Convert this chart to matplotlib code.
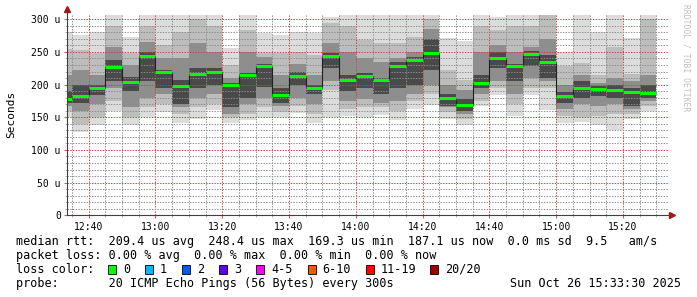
import matplotlib
matplotlib.use('Agg')
from matplotlib import pyplot as plt
from matplotlib.patches import Rectangle
import numpy as np

plt.rcParams['font.family'] = 'DejaVu Sans Mono'

W, H = 697, 297

# 5 minute smokeping steps, first one is partial (window starts 12:33:30)
window = ("12:33:30", "15:33:30")
ends = ["12:35", "12:40", "12:45", "12:50", "12:55", "13:00", "13:05", "13:10", "13:15",
        "13:20", "13:25", "13:30", "13:35", "13:40", "13:45", "13:50", "13:55", "14:00",
        "14:05", "14:10", "14:15", "14:20", "14:25", "14:30", "14:35", "14:40", "14:45",
        "14:50", "14:55", "15:00", "15:05", "15:10", "15:15", "15:20", "15:25", "15:30"]

# median rtt per step (us)
median = [178, 183, 195, 227.5, 204, 244, 220, 198, 216, 219, 199, 215, 228.5, 184, 213, 195,
          244, 207, 213, 206.6, 228.5, 237.8, 248.4, 179, 169.3, 203, 240.8, 228.5, 247, 235,
          182.6, 195, 194, 192, 189, 187.1]
# smoke bands (us): outer envelope down to the dark core
ping_min = [150, 127, 138, 159, 138, 150, 158, 141, 148, 161, 141, 146, 151, 150, 157, 141, 151, 152,
            150, 154, 146, 162, 169, 148, 138, 167, 184, 152, 184, 161, 142, 143, 138, 131, 148, 159]
ping_max = [281, 276, 280, 307, 273, 307, 307, 307, 307, 307, 256, 307, 279, 276, 280, 279, 304, 307,
            307, 307, 307, 307, 307, 271, 266, 307, 303, 307, 307, 307, 250, 307, 281, 307, 271, 307]
band2_lo = [160, 140, 150, 175, 150, 165, 170, 155, 165, 170, 150, 155, 165, 158, 167, 155, 192, 162,
            165, 165, 160, 175, 185, 158, 148, 175, 195, 170, 195, 195, 152, 151, 152, 155, 155, 168]
band2_hi = [255, 253, 248, 290, 248, 290, 261, 280, 300, 290, 230, 284, 248, 248, 250, 245, 295, 290,
            268, 263, 263, 273, 300, 222, 207, 290, 284, 290, 290, 307, 228, 233, 215, 258, 217, 300]
band3_lo = [168, 160, 170, 195, 165, 180, 185, 165, 180, 185, 155, 170, 180, 168, 180, 170, 205, 175,
            178, 172, 175, 185, 200, 165, 155, 185, 205, 185, 210, 205, 163, 170, 168, 170, 162, 175]
band3_hi = [215, 222, 215, 258, 230, 265, 240, 240, 263, 250, 210, 250, 243, 215, 232, 215, 263, 250,
            240, 235, 240, 250, 285, 200, 192, 250, 260, 250, 258, 270, 200, 215, 203, 210, 205, 215]
core_lo = [172, 172, 184, 205, 190, 205, 195, 170, 195, 200, 165, 180, 197, 172, 200, 185, 225, 190,
           195, 185, 195, 200, 222, 168, 160, 195, 225, 205, 228, 210, 172, 180, 182, 180, 168, 180]
core_hi = [190, 200, 200, 238, 212, 250, 222, 207, 225, 225, 202, 218, 232, 195, 220, 200, 248, 215,
           218, 210, 235, 242, 270, 185, 178, 215, 250, 232, 252, 245, 188, 205, 198, 200, 195, 200]

x_labels = ["12:40", "13:00", "13:20", "13:40", "14:00", "14:20", "14:40", "15:00", "15:20"]
y_ticks = [0, 50, 100, 150, 200, 250, 300]

loss_names = ["0", "1", "2", "3", "4-5", "6-10", "11-19", "20/20"]
loss_colors = ["#00ff00", "#00b8ff", "#0059ff", "#5e00ff", "#ff00ff", "#ff5500", "#ff0000", "#a10000"]


def minutes(s):
    p = [int(v) for v in s.split(':')]
    return (p[0] - 12) * 60 + p[1] + (p[2] / 60.0 if len(p) > 2 else 0)


def fx(x): return x / W
def fy(y): return 1 - y / H


t0, t1 = minutes(window[0]), minutes(window[1])
edges = [t0] + [minutes(e) for e in ends]
starts = np.array(edges[:-1])
widths = np.diff(edges)

fig = plt.figure(figsize=(W / 100, H / 100), dpi=100)
fig.patch.set_facecolor('white')
ax = fig.add_axes([fx(67), fy(215.3), fx(668 - 67), (215.3 - 14.7) / H])
ax.set_xlim(t0, t1)
ax.set_ylim(0, 307)

# smoke
layers = [(ping_min, ping_max, '#dcdcdc'), (band2_lo, band2_hi, '#bdbdbd'),
          (band3_lo, band3_hi, '#8e8e8e'), (core_lo, core_hi, '#4a4a4a')]
for lo, hi, c in layers:
    lo, hi = np.array(lo), np.array(hi)
    ax.bar(starts, hi - lo, bottom=lo, width=widths, align='edge', color=c, linewidth=0, zorder=1)

ax.stairs(median, edges, baseline=None, color='#202020', lw=0.8, zorder=3)
ax.hlines(median, starts, starts + widths, color='#00ff00', lw=2.2, zorder=4)

# grid
ax.set_xticks([minutes(l) for l in x_labels])
ax.set_xticklabels(x_labels)
ax.set_xticks(np.arange(35, 214, 5), minor=True)
ax.set_yticks(y_ticks)
ax.set_yticklabels(["0"] + ["%d u" % v for v in y_ticks[1:]])
ax.set_yticks(np.arange(0, 307, 10), minor=True)
ax.set_axisbelow(False)
ax.grid(which='minor', color=(0.55, 0.55, 0.55, 0.28), ls=(0, (1.4, 1.4)), lw=0.7)
ax.grid(which='major', color=(0.8, 0.25, 0.25, 0.3), ls=(0, (1.4, 1.4)), lw=0.7)
ax.tick_params(which='major', length=2, color='#c06060', labelsize=7, pad=2.5)
ax.tick_params(which='minor', length=1.5, color='#a0a0a0')
for s in ax.spines.values():
    s.set_visible(False)

# axes with arrows
ax.plot([0, 0], [0, 1.028], transform=ax.transAxes, clip_on=False, color='#404040', lw=0.8, zorder=5)
ax.plot([0, 1.006], [0, 0], transform=ax.transAxes, clip_on=False, color='#404040', lw=0.8, zorder=5)
ax.plot(0, 1.03, marker='^', ms=4, color='#a01818', transform=ax.transAxes, clip_on=False, zorder=6)
ax.plot(1.007, 0, marker='>', ms=4, color='#a01818', transform=ax.transAxes, clip_on=False, zorder=6)

fig.text(fx(11), fy(114), "Seconds", rotation=90, ha='center', va='center', fontsize=8)
fig.text(fx(686), fy(4), "RRDTOOL / TOBI OETIKER", rotation=270, ha='center', va='top',
         fontsize=5.8, color='#c0c0c0')

fs = 8.5
fig.text(fx(16), fy(241.5), "median rtt:  209.4 us avg  248.4 us max  169.3 us min  187.1 us now  0.0 ms sd  9.5   am/s",
         va='center', fontsize=fs)
fig.text(fx(16), fy(255.5), "packet loss: 0.00 % avg  0.00 % max  0.00 % min  0.00 % now",
         va='center', fontsize=fs)
fig.text(fx(16), fy(269.5), "loss color:", va='center', fontsize=fs)
box_x = [108.4, 145, 182, 219, 256.4, 307.6, 365.8, 430]
for bx, name, c in zip(box_x, loss_names, loss_colors):
    fig.add_artist(Rectangle((fx(bx), fy(274)), 8 / W, 9 / H, transform=fig.transFigure,
                             facecolor=c, edgecolor='black', lw=0.6))
    fig.text(fx(bx + 15), fy(269.5), name, va='center', fontsize=fs)
fig.text(fx(16), fy(283.5), "probe:       20 ICMP Echo Pings (56 Bytes) every 300s", va='center', fontsize=fs)
fig.text(fx(681), fy(283.5), "Sun Oct 26 15:33:30 2025", va='center', ha='right', fontsize=fs)

fig.savefig('out.png', dpi=100)
